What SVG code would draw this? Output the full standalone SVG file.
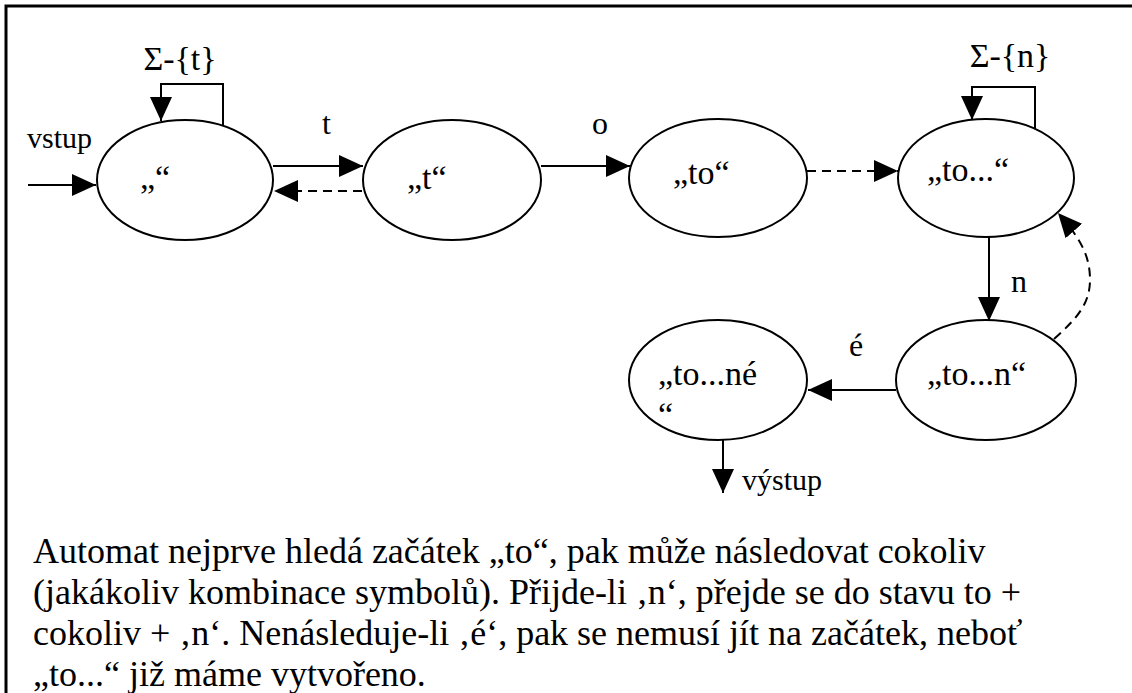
<svg xmlns="http://www.w3.org/2000/svg" width="1132" height="693" viewBox="0 0 1132 693" font-family="'Liberation Serif', 'Times New Roman', Tinos, 'DejaVu Serif', serif">
  <style>
    text { font-family: "Liberation Serif", "Times New Roman", Tinos, "DejaVu Serif", serif; fill: #000; }
    .node ellipse { fill: #fff; stroke: #000; stroke-width: 2; }
    .node text { font-size: 34px; }
    .edge { fill: none; stroke: #000; stroke-width: 2; }
    .solid { marker-end: url(#arrow); }
    .dash { stroke-dasharray: 9 6; marker-end: url(#arrow); }
    .lbl { font-size: 32px; }
    .sigma { font-size: 34px; }
    .small { font-size: 30px; }
    .para { font-size: 36px; }
  </style>
  <defs>
    <marker id="arrow" markerUnits="userSpaceOnUse" markerWidth="26" markerHeight="24" refX="24" refY="11" orient="auto">
      <path d="M0,0 L24,11 L0,22 z" fill="#000"/>
    </marker>
  </defs>

  <rect width="1132" height="693" fill="#fff"/>

  <!-- frame: top and left rules -->
  <path d="M6,693 V6 H1132" fill="none" stroke="#000" stroke-width="3"/>

  <!-- states -->
  <g id="s-empty" class="node">
    <ellipse cx="185" cy="180" rx="88" ry="60"/>
    <text x="140" y="189">„“</text>
  </g>
  <g id="s-t" class="node">
    <ellipse cx="452" cy="180" rx="89" ry="60"/>
    <text x="407" y="189">„t“</text>
  </g>
  <g id="s-to" class="node">
    <ellipse cx="718" cy="178" rx="89" ry="59"/>
    <text x="673" y="184">„to“</text>
  </g>
  <g id="s-to-any" class="node">
    <ellipse cx="986" cy="178" rx="88" ry="59"/>
    <text x="927" y="181">„to...“</text>
  </g>
  <g id="s-to-n" class="node">
    <ellipse cx="986" cy="380" rx="90" ry="60"/>
    <text x="927" y="385">„to...n“</text>
  </g>
  <g id="s-to-ne" class="node">
    <ellipse cx="718" cy="380" rx="89" ry="60"/>
    <text x="658" y="385">„to...né</text>
    <text x="658" y="426">“</text>
  </g>

  <!-- transitions -->
  <g id="connectors">
    <path class="edge solid" d="M28,185 H96"/>
    <path class="edge solid" d="M223,125 V84 H161 V121"/>
    <path class="edge solid" d="M273,166 H363"/>
    <path class="edge dash" d="M362,191 H274"/>
    <path class="edge solid" d="M541,166 H630"/>
    <path class="edge dash" d="M807,171 H898"/>
    <path class="edge solid" d="M1035,129 V87 H972 V120"/>
    <path class="edge solid" d="M989,237 V321"/>
    <path class="edge dash" d="M1054,339 C1075,320 1090,305 1090,280 C1090,255 1080,238 1058,213"/>
    <path class="edge solid" d="M896,390 H808"/>
    <path class="edge solid" d="M723,440 V493"/>
  </g>

  <!-- transition labels -->
  <g id="labels">
    <text class="small" x="27" y="148">vstup</text>
    <text class="sigma" x="180" y="70" text-anchor="middle">Σ-{t}</text>
    <text class="lbl" x="322" y="134">t</text>
    <text class="lbl" x="592" y="134">o</text>
    <text class="sigma" x="1010" y="67" text-anchor="middle">Σ-{n}</text>
    <text class="lbl" x="1011" y="292">n</text>
    <text class="lbl" x="849" y="356">é</text>
    <text class="small" x="742" y="490">výstup</text>
  </g>

  <!-- explanation -->
  <g id="caption" class="para">
    <text x="33" y="563">Automat nejprve hledá začátek „to“, pak může následovat cokoliv</text>
    <text x="33" y="604">(jakákoliv kombinace symbolů). Přijde-li ‚n‘, přejde se do stavu to +</text>
    <text x="33" y="645">cokoliv + ‚n‘. Nenásleduje-li ‚é‘, pak se nemusí jít na začátek, neboť</text>
    <text x="33" y="686">„to...“ již máme vytvořeno.</text>
  </g>
</svg>
